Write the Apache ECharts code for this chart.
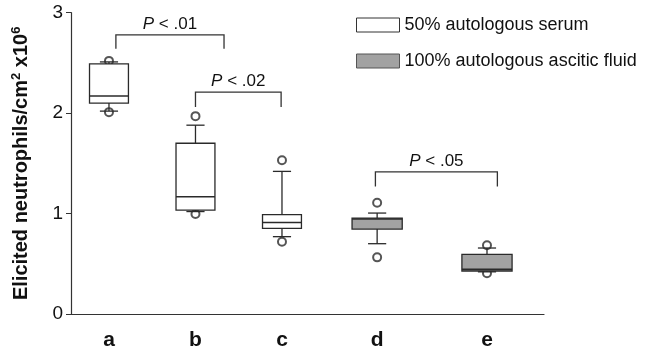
<!DOCTYPE html>
<html>
<head>
<meta charset="utf-8">
<script src="https://cdn.jsdelivr.net/npm/echarts@6/dist/echarts.min.js"></script>
<style>
  html, body { margin: 0; padding: 0; background: #fff; }
  #main { width: 649px; height: 352px; }
</style>
</head>
<body>
<div id="main"></div>
<script>
var groups = ['a', 'b', 'c', 'd', 'e'];
var groupX = [1, 2, 3, 4.1, 5.37];
var whiskerLow = [2.02, 1.02, 0.77, 0.70, 0.42];
var q1 = [2.10, 1.035, 0.853, 0.846, 0.428];
var median = [2.17, 1.167, 0.91, 0.945, 0.445];
var q3 = [2.49, 1.70, 0.99, 0.955, 0.594];
var whiskerHigh = [2.51, 1.88, 1.42, 1.005, 0.657];
var outHigh = [2.52, 1.97, 1.53, 1.107, 0.684];
var outLow = [2.01, 0.995, 0.72, 0.564, 0.405];
var serumIdx = [0, 1, 2];
var asciticIdx = [3, 4];
var yTicks = [0, 1, 2, 3];

var bracketX1 = [1.08, 2.0, 4.08];
var bracketX2 = [2.33, 2.99, 5.49];
var bracketTop = [2.78, 2.21, 1.416];
var bracketFoot = [2.64, 2.06, 1.27];
var bracketP = ['.01', '.02', '.05'];

var font = 'Liberation Sans, Arial, sans-serif';
var ink = '#2a2a2a';

function boxData(idx) {
	return idx.map(function(i) {
		return [groupX[i], whiskerLow[i], q1[i], median[i], q3[i], whiskerHigh[i]];
	});
}

function boxRender(boxW, fill) {
	return function(params, api) {
		var x = api.value(0);
		var lo = api.coord([x, api.value(1)]);
		var b1 = api.coord([x, api.value(2)]);
		var md = api.coord([x, api.value(3)]);
		var b3 = api.coord([x, api.value(4)]);
		var hi = api.coord([x, api.value(5)]);
		var w = api.size([boxW, 0])[0];
		var cw = api.size([0.21, 0])[0];
		var cx = lo[0];
		var ls = { stroke: ink, lineWidth: 1.3, fill: null };
		return {
			type: 'group',
			children: [
				{ type: 'line', shape: { x1: cx, y1: hi[1], x2: cx, y2: b3[1] }, style: ls },
				{ type: 'line', shape: { x1: cx - cw / 2, y1: hi[1], x2: cx + cw / 2, y2: hi[1] }, style: ls },
				{ type: 'line', shape: { x1: cx, y1: lo[1], x2: cx, y2: b1[1] }, style: ls },
				{ type: 'line', shape: { x1: cx - cw / 2, y1: lo[1], x2: cx + cw / 2, y2: lo[1] }, style: ls },
				{ type: 'rect', shape: { x: cx - w / 2, y: b3[1], width: w, height: b1[1] - b3[1] },
					style: { fill: fill, stroke: ink, lineWidth: 1.3 } },
				{ type: 'line', shape: { x1: cx - w / 2, y1: md[1], x2: cx + w / 2, y2: md[1] },
					style: { stroke: ink, lineWidth: 1.5 } }
			]
		};
	};
}

var outliers = [];
groupX.forEach(function(x, i) {
	outliers.push([x, outHigh[i]]);
	outliers.push([x, outLow[i]]);
});

var brackets = bracketX1.map(function(x, i) {
	return [x, bracketX2[i], bracketTop[i], bracketFoot[i], i];
});

var myChart = echarts.init(document.getElementById('main'));
var option = {
	animation: false,
	grid: { left: 71, right: 105, top: 12.7, bottom: 38 },
	legend: {
		orient: 'vertical',
		left: 351,
		top: 11,
		itemWidth: 43,
		itemHeight: 14,
		itemGap: 18,
		icon: 'rect',
		textStyle: { fontFamily: font, fontSize: 18, color: '#111' },
		data: [
			{ name: '50% autologous serum', itemStyle: { color: '#fff', borderColor: '#333', borderWidth: 1 } },
			{ name: '100% autologous ascitic fluid', itemStyle: { color: '#a2a2a2', borderColor: '#555', borderWidth: 1 } }
		]
	},
	xAxis: {
		type: 'value',
		min: 0.561,
		max: 6.029,
		splitLine: { show: false },
		axisLine: { show: true, lineStyle: { color: '#333', width: 1.2 } },
		axisTick: { show: false },
		axisLabel: {
			customValues: groupX,
			margin: 16,
			fontFamily: font,
			fontSize: 21,
			fontWeight: 'bold',
			color: '#111',
			formatter: function(v) {
				var i = groupX.indexOf(v);
				return i >= 0 ? groups[i] : '';
			}
		}
	},
	yAxis: {
		type: 'value',
		min: 0,
		max: 3,
		interval: 1,
		splitLine: { show: false },
		axisLine: { show: true, lineStyle: { color: '#333', width: 1.2 } },
		axisTick: { show: true, length: 5, lineStyle: { color: '#333' } },
		axisLabel: {
			margin: 8,
			fontFamily: font,
			fontSize: 19,
			color: '#111',
			formatter: function(v) { return yTicks.indexOf(v) >= 0 ? String(v) : ''; }
		},
		name: '{t|Elicited neutrophils/cm}{s|2}{t| x10}{s|6}',
		nameLocation: 'middle',
		nameGap: 39,
		nameRotate: 90,
		nameTextStyle: {
			rich: {
				t: { fontFamily: font, fontSize: 20, fontWeight: 'bold', color: '#111' },
				s: { fontFamily: font, fontSize: 13, fontWeight: 'bold', color: '#111', verticalAlign: 'top', padding: [0, 0, 9, 0] }
			}
		}
	},
	series: [
		{
			name: 'outliers',
			type: 'scatter',
			z: 1,
			symbol: 'emptyCircle',
			symbolSize: 8,
			itemStyle: { color: ink, borderWidth: 1.2 },
			data: outliers
		},
		{
			name: '50% autologous serum',
			type: 'custom',
			z: 2,
			itemStyle: { color: '#fff' },
			renderItem: boxRender(0.45, '#fff'),
			encode: { x: 0, y: [1, 2, 3, 4, 5] },
			data: boxData(serumIdx)
		},
		{
			name: '100% autologous ascitic fluid',
			type: 'custom',
			z: 2,
			itemStyle: { color: '#a2a2a2' },
			renderItem: boxRender(0.58, '#a2a2a2'),
			encode: { x: 0, y: [1, 2, 3, 4, 5] },
			data: boxData(asciticIdx)
		},
		{
			name: 'brackets',
			type: 'custom',
			z: 3,
			renderItem: function(params, api) {
				var p1 = api.coord([api.value(0), api.value(3)]);
				var p2 = api.coord([api.value(0), api.value(2)]);
				var p3 = api.coord([api.value(1), api.value(2)]);
				var p4 = api.coord([api.value(1), api.value(3)]);
				var i = api.value(4);
				return {
					type: 'group',
					children: [
						{ type: 'polyline', shape: { points: [p1, p2, p3, p4] },
							style: { stroke: '#333', lineWidth: 1.3, fill: null } },
						{ type: 'text', x: (p2[0] + p3[0]) / 2, y: p2[1] - 2,
							style: {
								text: '{i|P}{n| < ' + bracketP[i] + '}',
								align: 'center', verticalAlign: 'bottom',
								rich: {
									i: { fontFamily: font, fontSize: 17, fontStyle: 'italic', fill: '#111' },
									n: { fontFamily: font, fontSize: 17, fill: '#111' }
								}
							} }
					]
				};
			},
			encode: { x: [0, 1], y: [2, 3] },
			data: brackets
		}
	]
};
myChart.setOption(option);
</script>
</body>
</html>
